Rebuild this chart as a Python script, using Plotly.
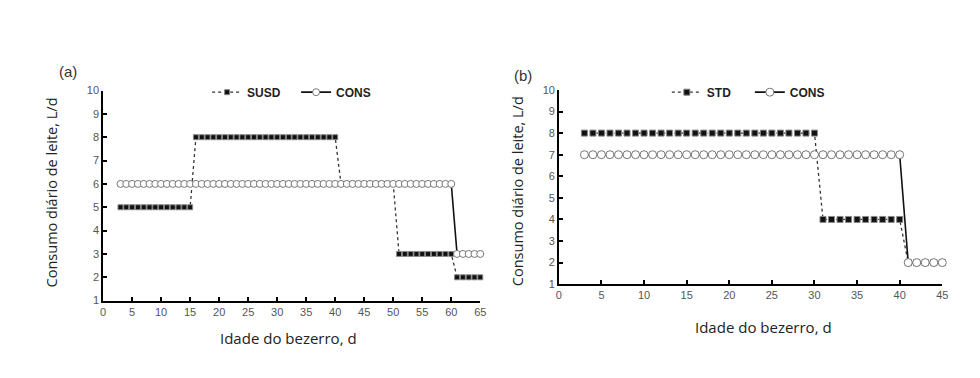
import plotly.graph_objects as go

# ---- data ----
# Panel (a)
a_days_susd = list(range(3, 66))
a_susd = [5]*13 + [8]*25 + [6]*10 + [3]*10 + [2]*5
a_days_cons = list(range(3, 66))
a_cons = [6]*58 + [3]*5

# Panel (b)
b_days_std = list(range(3, 46))
b_std = [8]*28 + [4]*10 + [2]*5
b_days_cons = list(range(3, 46))
b_cons = [7]*38 + [2]*5

a_xticks = list(range(0, 66, 5))
b_xticks = list(range(0, 46, 5))
yticks = list(range(1, 11))

W, H = 980, 378

def fx(px):
    return px / W

def fy(py):
    return 1 - py / H

fig = go.Figure()

sq_a = dict(symbol="square", size=5, color="#111", line=dict(width=1, color="#888"))
ci_a = dict(symbol="circle", size=7, color="white", line=dict(width=1, color="#777"))
sq_b = dict(symbol="square", size=6, color="#111", line=dict(width=1, color="#888"))
ci_b = dict(symbol="circle", size=8, color="white", line=dict(width=1, color="#777"))

fig.add_trace(go.Scatter(x=a_days_susd, y=a_susd, name="SUSD", mode="lines+markers",
                         line=dict(color="#333", width=1.3, dash="dot"), marker=sq_a,
                         xaxis="x", yaxis="y", legend="legend", cliponaxis=False))
fig.add_trace(go.Scatter(x=a_days_cons, y=a_cons, name="CONS", mode="lines+markers",
                         line=dict(color="#111", width=1.6), marker=ci_a,
                         xaxis="x", yaxis="y", legend="legend", cliponaxis=False))
fig.add_trace(go.Scatter(x=b_days_std, y=b_std, name="STD", mode="lines+markers",
                         line=dict(color="#333", width=1.3, dash="dot"), marker=sq_b,
                         xaxis="x2", yaxis="y2", legend="legend2", cliponaxis=False))
fig.add_trace(go.Scatter(x=b_days_cons, y=b_cons, name="CONS", mode="lines+markers",
                         line=dict(color="#111", width=1.6), marker=ci_b,
                         xaxis="x2", yaxis="y2", legend="legend2", cliponaxis=False))

tickfont = dict(family="Liberation Sans, Arial", size=11, color="#555")
axis_common = dict(showline=True, linecolor="black", linewidth=1.5, ticks="inside",
                   ticklen=4, tickwidth=1.5, tickcolor="black", showgrid=False,
                   zeroline=False, tickfont=tickfont, fixedrange=True)

legfont = dict(family="Liberation Sans, Arial", size=12, color="#222", weight="bold")

fig.update_layout(
    width=W, height=H,
    margin=dict(l=0, r=0, t=0, b=0),
    paper_bgcolor="white", plot_bgcolor="white",
    xaxis=dict(domain=[fx(101), fx(481.7)], range=[0, 65], tickvals=a_xticks,
               anchor="y", **axis_common),
    yaxis=dict(domain=[fy(304.3), fy(87.3)], range=[1, 10], tickvals=yticks,
               anchor="x", **axis_common),
    xaxis2=dict(domain=[fx(561), fx(948)], range=[0, 45], tickvals=b_xticks,
                anchor="y2", **axis_common),
    yaxis2=dict(domain=[fy(287.3), fy(86.7)], range=[1, 10], tickvals=yticks,
                anchor="x2", **axis_common),
    legend=dict(orientation="h", x=fx(206), y=fy(89), xanchor="left", yanchor="middle",
                font=legfont, bgcolor="rgba(0,0,0,0)", itemwidth=30, tracegroupgap=0,
                entrywidth=44),
    legend2=dict(orientation="h", x=fx(670), y=fy(89), xanchor="left", yanchor="middle",
                 font=legfont, bgcolor="rgba(0,0,0,0)", itemwidth=30, tracegroupgap=0,
                 entrywidth=38),
    showlegend=True,
)

ytitlefont = dict(family="Open Sans, Noto Sans", size=14.5, color="#222")
xtitlefont = dict(family="Open Sans, Noto Sans", size=15, color="#222")
panelfont = dict(family="Liberation Sans, Arial", size=15, color="#333")

ann = [
    dict(text="(a)", x=fx(66), y=fy(68), font=panelfont),
    dict(text="(b)", x=fx(525), y=fy(72), font=panelfont),
    dict(text="Consumo diário de leite, L/d", x=fx(49), y=fy(193), textangle=-90, font=ytitlefont),
    dict(text="Consumo diário de leite, L/d", x=fx(520), y=fy(191), textangle=-90, font=ytitlefont),
    dict(text="Idade do bezerro, d", x=fx(288), y=fy(343), font=xtitlefont),
    dict(text="Idade do bezerro, d", x=fx(768), y=fy(332), font=xtitlefont),
]
for a in ann:
    fig.add_annotation(xref="paper", yref="paper", showarrow=False,
                       xanchor="center", yanchor="middle", **a)

fig.write_html("out.html", config={"displayModeBar": False},
               post_script="document.body.style.margin='0';")
